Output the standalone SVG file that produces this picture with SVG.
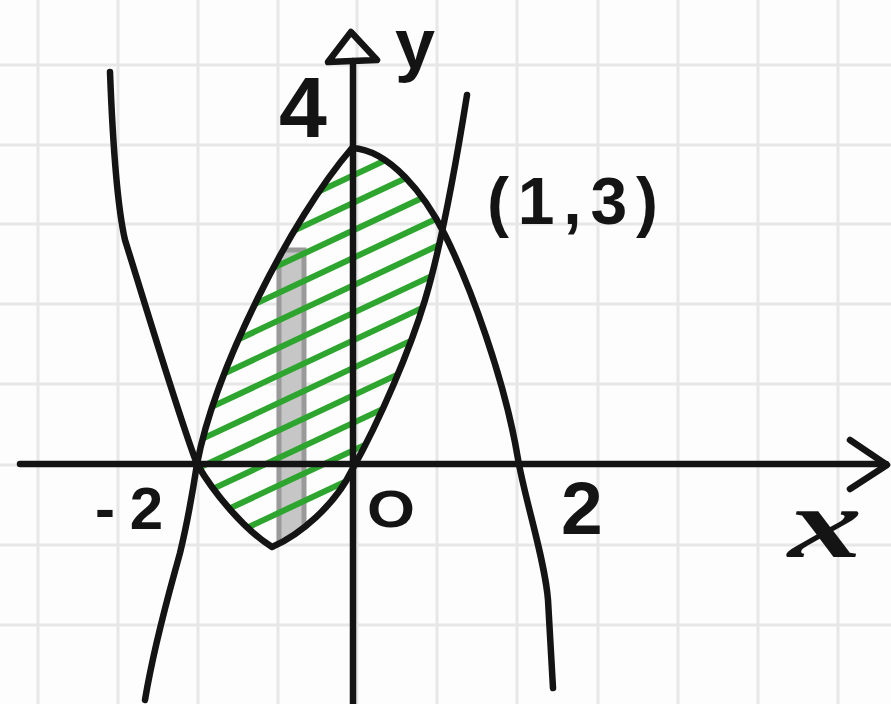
<svg xmlns="http://www.w3.org/2000/svg" width="891" height="704" viewBox="0 0 891 704">
<style>
.grid{stroke:#e7e7e7;stroke-width:3;fill:none}
.ink{stroke:#141414;stroke-width:6.5;fill:none;stroke-linecap:round;stroke-linejoin:round}
.hatch{stroke:#2ea52e;stroke-width:6;stroke-linecap:round}
.lbl{font-family:"Liberation Sans","DejaVu Sans",sans-serif;font-weight:bold;fill:#141414}
</style>
<defs>
<clipPath id="lens"><path d="M197,464 C215,495 245,530 272,547 C300,535 335,505 352,470 C380,420 410,350 425,300 L442,232 C425,195 390,150 352,148 C290,220 215,370 197,464 Z"/></clipPath>
</defs>
<rect width="891" height="704" fill="#fdfdfd"/>
<g id="grid" class="grid">
<line x1="38" y1="0" x2="38" y2="704"/>
<line x1="118" y1="0" x2="118" y2="704"/>
<line x1="198" y1="0" x2="198" y2="704"/>
<line x1="278" y1="0" x2="278" y2="704"/>
<line x1="357" y1="0" x2="357" y2="704"/>
<line x1="437" y1="0" x2="437" y2="704"/>
<line x1="517" y1="0" x2="517" y2="704"/>
<line x1="598" y1="0" x2="598" y2="704"/>
<line x1="678" y1="0" x2="678" y2="704"/>
<line x1="758" y1="0" x2="758" y2="704"/>
<line x1="838" y1="0" x2="838" y2="704"/>
<line x1="0" y1="65" x2="891" y2="65"/>
<line x1="0" y1="145" x2="891" y2="145"/>
<line x1="0" y1="224" x2="891" y2="224"/>
<line x1="0" y1="304" x2="891" y2="304"/>
<line x1="0" y1="384" x2="891" y2="384"/>
<line x1="0" y1="465" x2="891" y2="465"/>
<line x1="0" y1="545" x2="891" y2="545"/>
<line x1="0" y1="625" x2="891" y2="625"/>
</g>
<g id="region" clip-path="url(#lens)">
<rect x="279" y="250" width="25" height="310" fill="#c6c6c6" stroke="#9a9a9a" stroke-width="5"/>
<g class="hatch">
<line x1="190" y1="252.1" x2="450" y2="129.9"/>
<line x1="190" y1="279.6" x2="450" y2="157.4"/>
<line x1="190" y1="307.1" x2="450" y2="184.9"/>
<line x1="190" y1="334.6" x2="450" y2="212.4"/>
<line x1="190" y1="362.1" x2="450" y2="239.9"/>
<line x1="190" y1="389.6" x2="450" y2="267.4"/>
<line x1="190" y1="417.1" x2="450" y2="294.9"/>
<line x1="190" y1="444.6" x2="450" y2="322.4"/>
<line x1="190" y1="472.1" x2="450" y2="349.9"/>
<line x1="190" y1="499.6" x2="450" y2="377.4"/>
<line x1="190" y1="527.1" x2="450" y2="404.9"/>
<line x1="190" y1="554.6" x2="450" y2="432.4"/>
</g>
</g>
<g id="axes" class="ink">
<path d="M20,464 L886,464"/>
<path d="M850,440 L887,465 L850,489"/>
<path d="M353,61 L353,704"/>
<path d="M328,62 L351,32 L377,60 Z"/>
</g>
<g id="curves" class="ink">
<path id="curve-up" d="M110,72 C113,150 117,205 125,240 C150,320 180,420 197,464 C215,495 245,530 272,547 C300,535 335,505 352,470 C380,420 410,350 425,300 C440,250 455,170 467,95"/>
<path id="curve-down" d="M145,700 C155,640 170,590 180,553 C188,520 193,490 197,464 C215,370 290,220 352,148 C390,150 425,195 445,235 C470,285 505,380 518,459 C525,500 545,560 548,600 L553,688"/>
</g>
<g id="labels">
<g id="label-4"><text class="lbl" x="303" y="137" font-size="86" text-anchor="middle">4</text></g>
<g id="label-y"><text class="lbl" x="395" y="68" font-size="70" textLength="40" lengthAdjust="spacingAndGlyphs">y</text></g>
<g id="label-13"><text class="lbl" x="487" y="224" font-size="66" textLength="171" lengthAdjust="spacing">(1,3)</text></g>
<g id="label-m2"><text class="lbl" x="95" y="529" font-size="60" textLength="68" lengthAdjust="spacing">-2</text></g>
<g id="label-O"><text class="lbl" x="367" y="527" font-size="52" textLength="48" lengthAdjust="spacingAndGlyphs">O</text></g>
<g id="label-2"><text class="lbl" x="561" y="534" font-size="75">2</text></g>
<g id="label-x"><text x="788" y="557" font-size="100" font-family="'Liberation Serif','DejaVu Serif',serif" font-style="italic" font-weight="bold" fill="#141414" textLength="74" lengthAdjust="spacingAndGlyphs">x</text></g>
</g>
</svg>
